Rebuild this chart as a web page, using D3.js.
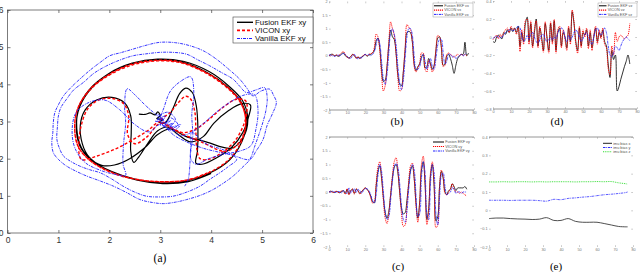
<!DOCTYPE html>
<html><head><meta charset="utf-8">
<script src="https://cdn.jsdelivr.net/npm/d3@7"></script>
<style>body{margin:0;background:#fff}svg{display:block}</style>
</head><body>
<svg id="c" width="640" height="272"></svg>
<script>
// ---------- DATA ----------
const xyTicks = [0,1,2,3,4,5,6];
const timeTicks = [0,10,20,30,40,50,60,70,80];
const vxTicks = [-2,-1.5,-1,-0.5,0,0.5,1,1.5,2];
const vzTicks = [-0.8,-0.6,-0.4,-0.2,0,0.2,0.4];
const biasTicks = [-0.2,-0.1,0,0.1,0.2,0.3,0.4];

const xyLabels = ["Fusion EKF xy","VICON xy","Vanilla EKF xy"];
const vxLabels = ["Fusion EKF vx","VICON vx","Vanilla EKF vx"];
const vyLabels = ["Fusion EKF vy","VICON vy","Vanilla EKF vy"];
const vzLabels = ["Fusion EKF vz","VICON vz","Vanilla EKF vz"];
const biasLabels = ["imu bias x","imu bias y","imu bias z"];

const fusionXY = [[2.58,3.2],[2.7,3.19],[2.8,3.23],[2.9,3.18],[2.95,3.26],[3.0,3.15],[2.93,3.08],[3.05,3.05],[2.98,2.98],[3.1,2.97],
 [3.25,3.35],[3.38,3.75],[3.5,3.9],[3.63,3.78],[3.71,3.4],[3.74,2.8],[3.73,2.2],[3.7,1.88],[3.82,1.85],[4.1,2.02],[4.4,2.3],[4.62,2.7],[4.74,3.15],[4.77,3.45],[4.6,3.48],[4.35,3.3],[4.05,2.95],[3.85,2.6],[3.6,2.45],[3.35,2.65],[3.15,2.85],
 [2.95,2.75],[2.75,2.4],[2.58,2.05],[2.48,1.9],[2.42,2.2],[2.43,2.7],[2.42,3.15],[2.3,3.5],[2.05,3.65],[1.75,3.58],[1.52,3.3],[1.43,2.9],[1.47,2.4],[1.6,2.05],[1.85,1.82],[2.1,1.83],[2.4,2.0],[2.7,2.3],[2.95,2.65],[3.2,2.8],[3.5,2.6],[3.9,2.45],[4.4,2.28],
 [4.62,2.55],[4.72,3.05],[4.62,3.55],[4.35,3.95],[3.95,4.35],[3.45,4.62],[2.95,4.68],[2.45,4.57],[2.0,4.3],[1.65,3.9],[1.42,3.4],[1.35,2.85],[1.42,2.35],[1.65,1.95],[2.05,1.65],[2.5,1.45],[3.0,1.35],[3.5,1.4],[3.95,1.6],[4.35,1.95],[4.6,2.45],[4.7,3.0],[4.6,3.5],[4.32,3.93],[3.92,4.32],[3.42,4.6],[2.92,4.66],[2.42,4.55],[1.98,4.28],[1.62,3.88],[1.4,3.38],[1.36,2.82],[1.45,2.3],[1.7,1.9],[2.1,1.62],[2.55,1.42],[3.05,1.33],[3.55,1.38],[4.0,1.6]];

const viconXY = [[3.0,3.05],[3.2,3.25],[3.35,3.5],[3.5,3.68],[3.6,3.6],[3.68,3.25],[3.7,2.7],[3.72,2.25],[3.78,2.0],[3.95,1.98],[4.2,2.15],[4.45,2.45],[4.62,2.85],[4.7,3.25],[4.68,3.55],[4.5,3.6],[4.25,3.4],[3.95,3.05],[3.7,2.8],[3.45,2.7],[3.2,2.85],
 [3.0,3.0],[2.75,2.75],[2.45,2.5],[2.1,2.25],[1.75,2.07],[1.45,1.98],[1.4,2.4],[1.45,2.9],[1.58,3.35],[1.8,3.58],[2.05,3.62],[2.28,3.48],[2.38,3.15],[2.36,2.65],[2.5,2.4],[2.75,2.6],[3.0,2.95],
 [3.3,2.75],[3.8,2.45],[4.3,2.2],[4.58,2.5],[4.68,3.0],[4.58,3.5],[4.3,3.92],[3.9,4.3],[3.4,4.58],[2.95,4.63],[2.45,4.52],[2.0,4.25],[1.62,3.85],[1.38,3.35],[1.32,2.85],[1.38,2.35],[1.62,1.95],[2.02,1.65],[2.5,1.45],[3.0,1.38],[3.5,1.42],[3.95,1.62],[4.35,1.98],[4.6,2.48],[4.68,3.0],[4.58,3.52],[4.3,3.95],[3.9,4.32],[3.4,4.6],[2.95,4.65],[2.45,4.55],[2.0,4.27],[1.62,3.87],[1.38,3.35],[1.32,2.8],[1.4,2.3],[1.65,1.92],[2.05,1.62],[2.55,1.44],[3.05,1.38],[3.55,1.43],[3.98,1.65]];

const vanillaXY = [[2.95,3.2],[3.05,3.05],[2.9,3.0],[3.1,3.15],[3.0,2.9],[3.2,3.02],[3.05,2.85],[3.25,2.95],[3.15,2.8],[3.35,2.9],[3.2,3.1],[3.1,2.95],[2.95,3.1],[3.15,3.25],[3.3,3.05],[3.2,2.85],[3.4,2.92],[3.25,2.75],[3.1,2.85],[3.0,3.0],
 [3.08,3.4],[3.2,3.82],[3.4,4.08],[3.6,4.2],[3.66,3.75],[3.62,3.2],[3.64,2.6],[3.6,2.0],[3.7,1.85],[3.95,2.0],[4.25,2.12],[4.55,2.2],[4.78,2.35],[4.88,2.8],[4.92,3.3],[4.85,3.72],[4.62,3.7],[4.35,3.5],[4.1,3.25],[3.85,2.95],[3.6,2.7],[3.38,2.62],[3.2,2.88],
 [2.95,3.15],[2.72,3.42],[2.5,3.72],[2.35,3.88],[2.3,3.45],[2.32,2.95],[2.28,2.4],[2.27,1.85],[2.32,1.55],[2.1,1.58],[1.8,1.7],[1.52,1.9],[1.32,2.3],[1.27,2.8],[1.35,3.25],[1.58,3.5],[1.9,3.58],[2.2,3.32],[2.5,2.92],[2.78,2.72],[3.0,2.92],
 [3.3,2.6],[3.8,2.3],[4.4,2.1],[4.76,1.98],[4.88,2.2],[5.02,2.52],[5.1,2.9],[5.2,3.2],[5.28,3.51],[5.22,3.72],[5.15,3.87],[4.98,3.82],[4.82,3.69],[4.7,3.9],[4.56,4.14],[4.35,4.4],[4.1,4.68],[3.85,4.9],[3.58,5.04],[3.3,5.12],[2.99,5.13],[2.72,5.05],[2.47,4.95],[2.22,4.85],[2.01,4.77],[1.82,4.59],[1.62,4.38],[1.42,4.14],[1.25,3.92],[1.1,3.69],[1.0,3.45],[0.93,3.24],[0.9,2.98],[0.89,2.7],[0.87,2.42],[0.9,2.16],[1.0,1.98],[1.16,1.8],[1.35,1.66],[1.56,1.53],[1.82,1.4],[2.08,1.26],[2.35,1.08],[2.6,0.9],[2.85,0.82],[3.06,0.79],[3.3,0.83],[3.52,0.9],[3.8,1.02],[4.04,1.17],[4.25,1.35],[4.43,1.53],[4.6,1.75],[4.76,1.98],[4.86,2.35],[4.95,2.7],[5.02,3.0],[5.08,3.33],[5.1,3.65],[5.05,3.91],[4.88,3.85],[4.69,3.78],[4.56,3.95],[4.43,4.14],[4.2,4.32],[3.97,4.5],[3.75,4.65],[3.52,4.81],[3.25,4.86],[2.99,4.86],[2.72,4.82],[2.47,4.77],[2.2,4.65],[1.95,4.5],[1.7,4.3],[1.49,4.05],[1.3,3.85],[1.16,3.6],[1.05,3.38],[1.0,3.15],[0.98,2.85],[0.97,2.52],[1.02,2.28],[1.1,2.07],[1.25,1.92],[1.42,1.8],[1.62,1.7],[1.82,1.62],[2.05,1.45],[2.27,1.26],[2.5,1.1],[2.73,0.99],[3.0,0.97],[3.25,0.99],[3.52,1.1],[3.78,1.26],[3.98,1.45],[4.17,1.62],[4.35,1.8],[4.5,1.98],
 [4.3,2.2],[3.9,2.4],[3.62,2.7],[3.6,2.4],[3.58,1.8],[3.55,1.45],[3.48,1.26]];

const time = [0,1,2,3,4,5,6,7,8,9,10,11,12,13,14,15,16,17,18,19,20,21,22,23,24,25,26,27,28,29,30,31,32,33,34,35,36,37,38,39,40,41,42,43,44,45,46,47,48,49,50,51,52,53,54,55,56,57,58,59,60,61,62,63,64,65,66,67,68,69,70,71,72,73,74,75,76,77];

const vxFusion = [0.0,0.05,0.05,0.0,0.02,-0.02,0.0,0.08,0.1,0.0,
 -0.05,-0.08,-0.03,0.05,0.0,-0.08,-0.05,-0.1,-0.05,0.0,
 0.05,-0.02,0.03,0.05,0.1,0.2,0.55,0.65,0.3,-0.5,
 -0.95,-0.9,-0.4,0.4,0.95,0.7,0.6,0.1,-0.7,-1.05,
 -1.1,-0.6,0.2,0.85,0.9,0.85,0.5,-0.3,-0.55,-0.4,
 -0.3,-0.05,0.05,-0.45,-0.4,-0.1,-0.3,-0.5,-0.35,0.2,
 0.65,0.7,0.3,-0.35,-0.3,0.0,0.05,-0.1,-0.35,-0.65,
 -0.35,-0.1,0.0,0.05,0.05,0.5,0.0,0.1];
const vxVicon = [0.02,0.0,0.05,0.0,0.03,0.0,0.05,0.12,0.15,0.05,
 -0.05,-0.1,-0.05,0.05,0.02,-0.1,-0.03,-0.1,-0.05,0.02,
 0.05,0.0,0.05,0.08,0.1,0.3,0.8,0.7,0.2,-0.7,
 -1.3,-1.1,-0.4,0.5,1.25,1.0,0.75,0.1,-0.8,-1.3,
 -1.25,-0.6,0.3,1.15,1.05,0.95,0.5,-0.4,-0.6,-0.45,
 -0.3,0.1,0.1,-0.5,-0.6,-0.15,-0.35,-0.6,-0.4,0.25,
 0.75,0.7,0.35,-0.4,-0.35,0.05,0.1,0.05,0.0,-0.05,
 0.0,0.05,0.0,0.05,0.0,0.05,0.0,null];
const vxVanilla = [0.03,0.02,0.0,-0.02,0.0,0.03,0.0,0.05,0.08,0.05,
 -0.02,-0.08,-0.1,0.0,0.05,-0.05,-0.12,-0.05,-0.08,0.0,
 0.05,0.02,0.05,0.0,0.05,0.15,0.4,0.65,0.45,-0.2,
 -0.85,-1.05,-0.7,0.1,0.85,1.0,0.8,0.4,-0.4,-1.0,
 -1.25,-0.9,-0.1,0.7,1.0,1.0,0.75,0.0,-0.5,-0.5,
 -0.4,-0.1,0.05,-0.2,-0.5,-0.3,-0.1,-0.4,-0.5,-0.1,
 0.4,0.6,0.6,0.1,-0.3,-0.2,0.05,0.05,-0.05,0.0,
 -0.1,-0.05,0.0,0.05,0.0,0.05,0.1,null];

const vyFusion = [0.0,0.03,0.0,-0.02,0.02,0.0,-0.03,0.02,0.05,-0.05,
 0.1,-0.08,0.05,0.1,-0.05,0.1,0.05,-0.05,0.02,0.08,
 0.15,0.1,0.0,-0.15,-0.35,-0.4,0.2,0.75,0.95,0.5,
 -0.2,-0.75,-0.95,-0.7,-0.1,0.5,0.9,1.0,0.7,0.0,
 -0.6,-0.8,-0.75,-0.3,0.3,0.8,0.95,0.5,-0.4,-0.95,
 -0.4,0.8,1.1,0.3,-1.0,-0.6,0.6,1.0,0.2,-1.05,
 -0.9,0.2,0.75,0.5,0.0,-0.1,0.05,0.1,0.3,0.2,
 0.05,0.15,0.15,0.15,0.15,0.2,0.1,null];
const vyVicon = [0.0,0.02,-0.02,0.0,0.03,-0.02,0.0,0.05,0.0,-0.08,
 0.12,-0.1,0.05,0.12,-0.08,0.12,0.05,-0.08,0.0,0.1,
 0.15,0.08,0.0,-0.2,-0.4,-0.35,0.3,0.9,1.1,0.55,
 -0.3,-0.95,-1.15,-0.8,-0.1,0.6,1.1,1.25,0.8,0.0,
 -0.8,-1.25,-1.2,-0.5,0.4,0.95,1.05,0.5,-0.5,-1.1,
 -0.4,1.0,1.3,0.3,-1.2,-0.7,0.7,1.1,0.3,-1.3,
 -1.2,0.2,0.8,0.55,-0.05,-0.1,0.0,0.1,0.3,0.1,
 0.0,0.0,-0.05,0.0,-0.05,-0.1,-0.15,null];
const vyVanilla = [0.02,0.0,0.03,0.0,-0.02,0.02,0.0,-0.03,0.05,0.0,
 -0.05,0.15,-0.05,0.05,0.12,-0.02,0.1,0.05,-0.05,0.05,
 0.12,0.12,0.05,-0.1,-0.3,-0.4,-0.1,0.6,1.0,0.75,
 0.0,-0.7,-1.0,-0.9,-0.3,0.4,0.9,1.05,0.9,0.3,
 -0.5,-1.0,-1.1,-0.7,0.1,0.75,1.0,0.8,-0.1,-0.9,
 -0.8,0.5,1.1,0.7,-0.8,-1.0,0.3,1.0,0.7,-0.8,
 -1.2,-0.2,0.6,0.7,0.2,-0.1,-0.05,0.0,0.15,0.1,
 -0.05,0.0,0.0,-0.05,0.0,0.0,0.0,null];

const vzFusion = [-0.05,-0.06,0.0,0.02,0.0,-0.02,0.05,0.03,0.08,0.05,
 0.1,0.06,0.1,0.05,0.12,-0.1,0.05,-0.05,0.15,0.22,
 -0.05,0.15,-0.1,0.05,0.2,-0.1,0.1,0.0,-0.15,0.15,
 0.0,-0.15,0.15,-0.05,0.18,-0.15,0.05,0.1,-0.1,0.05,
 0.0,-0.12,0.1,-0.05,0.28,0.15,-0.05,-0.15,0.1,-0.1,
 0.05,0.02,0.08,-0.1,0.05,-0.12,0.0,0.1,-0.05,0.05,
 0.0,0.08,-0.05,-0.1,-0.3,-0.45,-0.15,-0.25,-0.2,-0.6,
 -0.55,-0.47,-0.4,-0.33,-0.27,-0.2,-0.3,null];
const vzVicon = [-0.03,0.0,0.02,-0.02,0.03,0.0,0.05,0.08,0.1,0.05,
 0.12,0.08,0.1,0.03,0.1,-0.16,0.08,-0.08,0.18,0.2,
 -0.08,0.18,-0.12,0.08,0.18,-0.12,0.12,-0.03,-0.17,0.17,
 -0.03,-0.18,0.17,-0.08,0.2,-0.18,0.08,0.12,-0.12,0.08,
 -0.03,-0.15,0.12,-0.08,0.3,0.17,-0.08,-0.18,0.12,-0.12,
 0.08,0.0,0.1,-0.13,0.08,-0.15,0.02,0.12,-0.08,0.08,
 -0.02,0.1,-0.08,-0.12,-0.35,-0.42,-0.1,-0.2,0.05,-0.05,
 0.0,0.02,0.0,-0.02,0.0,0.02,0.15,null];
const vzVanilla = [-0.02,0.0,0.01,0.0,-0.01,0.0,0.02,0.05,0.06,0.08,
 0.08,0.07,0.08,0.1,0.12,0.1,0.0,-0.05,-0.03,0.02,
 -0.03,0.03,0.05,0.0,-0.05,-0.07,-0.03,0.02,0.03,-0.02,
 -0.05,-0.03,0.0,-0.03,0.0,-0.02,0.05,0.08,0.1,0.08,
 0.0,-0.05,0.02,-0.03,0.0,0.05,0.08,0.05,0.0,-0.05,
 -0.02,0.03,0.05,0.0,-0.05,-0.08,0.0,0.08,0.1,0.05,
 0.02,0.05,0.1,0.05,-0.1,-0.2,-0.22,-0.18,-0.1,-0.12,
 -0.15,-0.1,-0.05,-0.02,0.0,-0.02,-0.04,null];

const biasTime = [0,4,8,12,16,20,24,28,32,36,40,44,48,52,56,60,64,68,72,76,77];
const biasX = [-0.045,-0.042,-0.042,-0.045,-0.047,-0.048,-0.05,-0.048,-0.04,-0.055,-0.055,-0.045,-0.06,-0.065,-0.065,-0.065,-0.072,-0.08,-0.088,-0.09,-0.09];
const biasY = [0.055,0.055,0.055,0.054,0.055,0.055,0.055,0.053,0.05,0.06,0.058,0.065,0.068,0.072,0.075,0.08,0.085,0.088,0.092,0.097,0.1];
const biasZ = [0.155,0.155,0.156,0.155,0.156,0.156,0.155,0.156,0.155,0.156,0.156,0.156,0.155,0.156,0.156,0.157,0.156,0.157,0.15,0.145,0.143];

// ---------- DRAW ----------
const svg = d3.select("#c");
const SANS = "'Liberation Sans', Arial, sans-serif";
const SERIF = "'Liberation Serif', 'Times New Roman', serif";
const styles = {
  fusion: {stroke:"#000"},
  vicon: {stroke:"#ff0000"},
  vanilla: {stroke:"#2020ff"}
};

function axes(g, x, y, o) {
  const mk = (ax, tr) => {
    const a = g.append("g").attr("transform", tr).call(ax);
    a.select(".domain").remove();
    a.selectAll("line").attr("stroke", o.tickColor).attr("stroke-width", o.tickW);
    a.selectAll("text").attr("fill", o.textColor).attr("font-size", o.fs).attr("font-family", SANS);
    return a;
  };
  const [x0,x1] = x.range(), [y1,y0] = y.range();
  mk(d3.axisBottom(x).tickValues(o.xt).tickSizeInner(-o.tl).tickSizeOuter(0).tickPadding(o.pad).tickFormat(d3.format("~g")), `translate(0,${y1})`);
  mk(d3.axisTop(x).tickValues(o.xt).tickSizeInner(-o.tl).tickSizeOuter(0).tickFormat(""), `translate(0,${y0})`);
  mk(d3.axisLeft(y).tickValues(o.yt).tickSizeInner(-o.tl).tickSizeOuter(0).tickPadding(o.pad).tickFormat(d3.format("~g")), `translate(${x0},0)`);
  mk(d3.axisRight(y).tickValues(o.yt).tickSizeInner(-o.tl).tickSizeOuter(0).tickFormat(""), `translate(${x1},0)`);
}

// ----- panel (a)
{
  const x = d3.scaleLinear().domain([0,6]).range([7.5,313]);
  const y = d3.scaleLinear().domain([0,6]).range([233,10]);
  const g = svg.append("g");
  const line = d3.line().x(d=>x(d[0])).y(d=>y(d[1])).curve(d3.curveCatmullRom.alpha(0.5));
  const lw = {fusion:1.2, vicon:1.4, vanilla:0.9};
  const dash = {fusion:null, vicon:"3,2", vanilla:"3,1,1,1"};
  [["fusion",fusionXY],["vicon",viconXY],["vanilla",vanillaXY]].forEach(([k,d])=>{
    g.append("path").attr("d", line(d)).attr("fill","none").attr("stroke",styles[k].stroke)
     .attr("stroke-width",lw[k]).attr("stroke-dasharray", dash[k]);
  });
  g.append("rect").attr("x",7.5).attr("y",10).attr("width",313-7.5).attr("height",223)
    .attr("fill","none").attr("stroke","#444").attr("stroke-width",0.7);
  axes(g, x, y, {xt:xyTicks, yt:xyTicks, tl:3, pad:4, fs:8.5, tickColor:"#444", tickW:0.7, textColor:"#333"});
  // legend
  const L = g.append("g");
  L.append("rect").attr("x",233).attr("y",17).attr("width",80).attr("height",26).attr("fill","#fff").attr("stroke","#444").attr("stroke-width",0.6);
  ["fusion","vicon","vanilla"].forEach((k,i)=>{
    const yy = 22.3 + i*8.1;
    L.append("line").attr("x1",237).attr("x2",253).attr("y1",yy).attr("y2",yy).attr("stroke",styles[k].stroke)
      .attr("stroke-width",lw[k]+0.2).attr("stroke-dasharray", dash[k]);
    L.append("text").attr("x",255).attr("y",yy+2.8).text(xyLabels[i]).attr("font-size",7.9).attr("font-family",SANS).attr("fill","#111");
  });
  svg.append("text").attr("x",160).attr("y",262).attr("text-anchor","middle").attr("font-family",SERIF).attr("font-size",11.5).text("(a)");
}

// ----- small panels
function small(o) {
  const x = d3.scaleLinear().domain([0,80]).range([o.x0,o.x1]);
  const y = d3.scaleLinear().domain(o.yd).range([o.y1,o.y0]);
  const g = svg.append("g");
  g.append("line").attr("x1",o.x0).attr("x2",o.x1).attr("y1",o.edgeY).attr("y2",o.edgeY).attr("stroke","#8a8a8a").attr("stroke-width",0.9);
  axes(g, x, y, {xt:timeTicks, yt:o.yt, tl:1.8, pad:1.5, fs:3.8, tickColor:"#999", tickW:0.5, textColor:"#777"});
  const line = d3.line().defined(d=>d[1]!=null).x(d=>x(d[0])).y(d=>y(d[1])).curve(d3.curveCatmullRom.alpha(0.5));
  o.series.forEach(s=>{
    const pts = o.t.map((t,i)=>[t,s.v[i]]);
    g.append("path").attr("d", line(pts)).attr("fill","none").attr("stroke",s.c).attr("stroke-width",s.w).attr("stroke-dasharray",s.dash);
  });
  // legend
  const L = g.append("g");
  if (o.box) L.append("rect").attr("x",o.box[0]).attr("y",o.box[1]).attr("width",o.box[2]).attr("height",o.box[3]).attr("fill","#fff").attr("stroke","#888").attr("stroke-width",0.4);
  o.series.forEach((s,i)=>{
    const yy = o.ly + i*o.lstep;
    L.append("line").attr("x1",o.lx).attr("x2",o.lx+o.llen).attr("y1",yy).attr("y2",yy).attr("stroke",s.c).attr("stroke-width",s.w+0.2).attr("stroke-dasharray",s.dash);
    L.append("text").attr("x",o.lx+o.llen+1.2).attr("y",yy+1.3).text(o.labels[i]).attr("font-size",3.8).attr("font-family",SANS).attr("fill","#555");
  });
  svg.append("text").attr("x",o.cap[0]).attr("y",o.cap[1]).attr("text-anchor","middle").attr("font-family",SERIF).attr("font-size",11).text(o.cap[2]);
}
const tri = (a,b,c) => [
  {v:a, c:"#000", w:0.8, dash:null},
  {v:b, c:"#ff0000", w:0.9, dash:"1.2,0.8"},
  {v:c, c:"#2020ff", w:0.8, dash:"2.5,0.8,0.8,0.8"}];

small({x0:329,x1:474,y0:1.5,y1:110,yd:[-2,2],yt:vxTicks,edgeY:110,t:time,series:tri(vxFusion,vxVicon,vxVanilla),
  labels:vxLabels, box:[433,3,40,14], lx:434, ly:5.8, lstep:4.3, llen:9, cap:[397,124.5,"(b)"]});
small({x0:493,x1:637,y0:1,y1:109,yd:[-0.8,0.4],yt:vzTicks,edgeY:109,t:time,series:tri(vzFusion,vzVicon,vzVanilla),
  labels:vzLabels, box:[598,3,39,14], lx:599, ly:5.8, lstep:4.3, llen:7.5, cap:[557,124.5,"(d)"]});
small({x0:329,x1:474,y0:137,y1:247,yd:[-2,2],yt:vxTicks,edgeY:137,t:time,series:tri(vyFusion,vyVicon,vyVanilla),
  labels:vyLabels, box:null, lx:433, ly:142, lstep:4.5, llen:11, cap:[398,270,"(c)"]});
small({x0:489,x1:633,y0:137,y1:247,yd:[-0.2,0.4],yt:biasTicks,edgeY:137,t:biasTime,series:[
    {v:biasX, c:"#222", w:0.8, dash:null},
    {v:biasY, c:"#3030ff", w:0.8, dash:"2.5,0.8,0.8,0.8"},
    {v:biasZ, c:"#33dd33", w:0.9, dash:"1,0.8"}],
  labels:biasLabels, box:null, lx:603, ly:143.3, lstep:4.2, llen:9, cap:[556,270,"(e)"]});
</script>
</body></html>
